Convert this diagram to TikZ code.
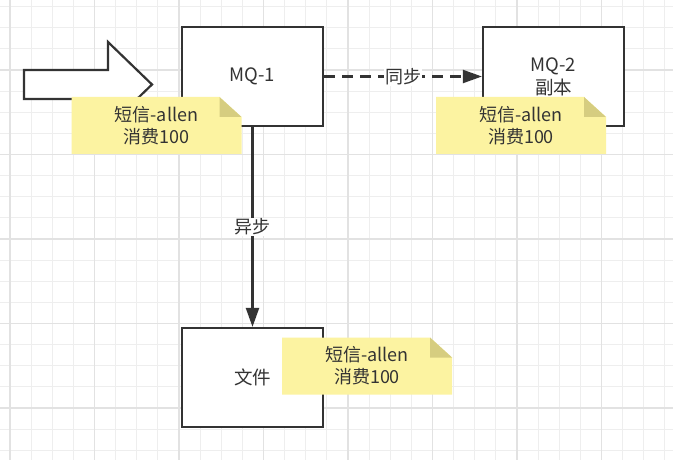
\documentclass[tikz,border=0pt]{standalone}
\usepackage{fontspec}
\setmainfont{Noto Sans CJK SC}
\usepackage{tikz}
\usetikzlibrary{arrows.meta}
\usepackage{xcolor}
\definecolor{ink}{HTML}{333333}
\definecolor{minorgrid}{HTML}{EEEEEE}
\definecolor{majorgrid}{HTML}{E2E2E2}
\definecolor{notefill}{HTML}{FCF3A1}
\definecolor{foldfill}{HTML}{D6CD80}
\tikzstyle{mqbox} = [draw=ink, fill=white, line width=2.2pt, rectangle,
    minimum width=141pt, minimum height=99pt, inner sep=0pt, align=center,
    text=ink, font=\fontsize{18.5}{23}\selectfont]
\tikzstyle{memo} = [rectangle, minimum width=170pt, minimum height=57pt,
    inner sep=0pt, align=center, text=ink, font=\fontsize{18}{22}\selectfont,
    path picture={
      \fill[notefill] (path picture bounding box.north west)
        -- ([xshift=-22pt]path picture bounding box.north east)
        -- ([yshift=-20pt]path picture bounding box.north east)
        -- (path picture bounding box.south east)
        -- (path picture bounding box.south west) -- cycle;
      \fill[foldfill] ([xshift=-22pt]path picture bounding box.north east)
        -- ([xshift=-22pt,yshift=-20pt]path picture bounding box.north east)
        -- ([yshift=-20pt]path picture bounding box.north east) -- cycle;}]
\tikzstyle{link} = [draw=ink, line width=2.2pt,
    -{Triangle[length=19pt,width=13pt]}]
\tikzstyle{linklabel} = [fill=white, text=ink, inner sep=1pt,
    font=\fontsize{18}{22}\selectfont]

\begin{document}
\begin{tikzpicture}[x=1pt, y=-1pt]
\useasboundingbox (0,0) rectangle (673,460);
\fill[white] (0,0) rectangle (673,460);
\foreach \k in {-1,...,31}
    \draw[minorgrid, line width=1pt] ({10+21.125*\k},0) -- ({10+21.125*\k},460);
\foreach \k in {-3,...,18}
    \draw[minorgrid, line width=1pt] (0,{70+21.125*\k}) -- (673,{70+21.125*\k});
\foreach \k in {0,...,7}
    \draw[majorgrid, line width=1.2pt] ({10+84.5*\k},0) -- ({10+84.5*\k},460);
\foreach \k in {0,...,4}
    \draw[majorgrid, line width=1.2pt] (0,{70+84.5*\k}) -- (673,{70+84.5*\k});

\draw[draw=ink, fill=white, line width=2.2pt, line join=miter]
    (24,70) -- (108,70) -- (108,42) -- (152,84.5) -- (108,127) -- (108,99)
    -- (24,99) -- cycle;

\node[mqbox] (mq1) at (252.5,76.5) {MQ-1};
\node[mqbox] (mq2) at (553.5,76.5) {MQ-2\\副本};
\node[mqbox] (file) at (252.5,377.5) {文件};

\draw[link, dash pattern=on 11pt off 7pt] (mq1) -- node[linklabel] {同步} (mq2);
\draw[link] (mq1) -- node[linklabel] {异步} (file);

\node[memo] (memo1) at (156.5,125.5) {短信-allen\\消费100};
\node[memo] (memo2) at (521,125.5) {短信-allen\\消费100};
\node[memo] (memo3) at (367,366) {短信-allen\\消费100};
\end{tikzpicture}
\end{document}
